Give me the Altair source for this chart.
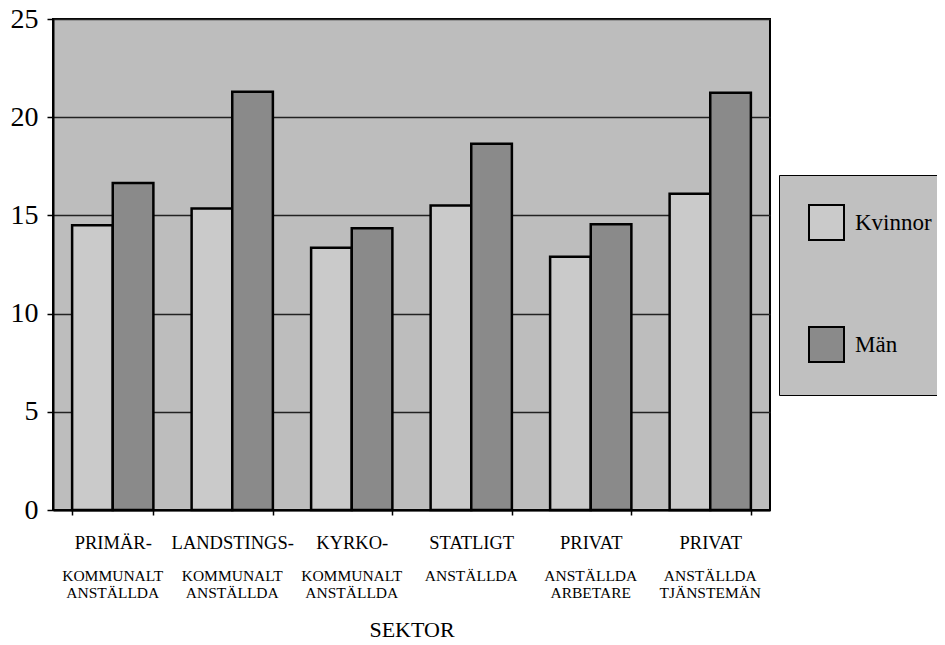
import altair as alt
import pandas as pd

# Data
sektor = [
    "PRIMÄR-|KOMMUNALT|ANSTÄLLDA",
    "LANDSTINGS-|KOMMUNALT|ANSTÄLLDA",
    "KYRKO-|KOMMUNALT|ANSTÄLLDA",
    "STATLIGT|ANSTÄLLDA",
    "PRIVAT|ANSTÄLLDA|ARBETARE",
    "PRIVAT|ANSTÄLLDA|TJÄNSTEMÄN",
]
kon = ["Kvinnor", "Män"]
kvinnor = [14.5, 15.35, 13.35, 15.5, 12.9, 16.1]
man = [16.65, 21.3, 14.35, 18.65, 14.55, 21.25]
y_ticks = [0, 5, 10, 15, 20, 25]

rows = []
for s, k, m in zip(sektor, kvinnor, man):
    rows.append({"sektor": s, "kon": kon[0], "varde": k})
    rows.append({"sektor": s, "kon": kon[1], "varde": m})
df = pd.DataFrame(rows)

FONT = "Liberation Serif"
BG = "#bdbdbd"
LIGHT = "#cacaca"
DARK = "#8a8a8a"

xscale = alt.Scale(domain=sektor, paddingInner=0.32, paddingOuter=0.16)

bars = alt.Chart(df).mark_bar(stroke="black", strokeWidth=2.5, opacity=1).encode(
    x=alt.X(
        "sektor:N",
        scale=xscale,
        sort=sektor,
        axis=alt.Axis(
            title=None,
            orient="bottom",
            labelExpr="isString(datum.value) ? split(datum.value, '|')[0] : ''",
            labelAngle=0,
            labelFont=FONT,
            labelFontSize=18.5,
            labelColor="black",
            labelPadding=18,
            tickBand="extent",
            tickSize=5,
            tickColor="black",
            tickWidth=1.5,
            domainColor="black",
            domainWidth=2,
            grid=False,
        ),
    ),
    xOffset=alt.XOffset("kon:N", scale=alt.Scale(domain=kon, paddingInner=0, paddingOuter=0)),
    y=alt.Y(
        "varde:Q",
        scale=alt.Scale(domain=[0, 25], nice=False),
        axis=alt.Axis(
            title=None,
            values=y_ticks,
            labelFont=FONT,
            labelFontSize=28,
            labelColor="black",
            labelPadding=9,
            tickSize=6,
            tickColor="black",
            tickWidth=1.5,
            domainColor="black",
            domainWidth=2,
            grid=True,
            gridColor="#222222",
            gridWidth=1.5,
        ),
    ),
    color=alt.Color(
        "kon:N",
        scale=alt.Scale(domain=kon, range=[LIGHT, DARK]),
        legend=alt.Legend(
            title=None,
            orient="none",
            legendX=726,
            legendY=156,
            direction="vertical",
            fillColor="#c0c0c0",
            strokeColor="black",
            padding=29,
            symbolType="square",
            symbolSize=1225,
            symbolStrokeColor="black",
            symbolStrokeWidth=2,
            symbolOpacity=1,
            labelFont=FONT,
            labelFontSize=23,
            labelColor="black",
            labelOffset=10,
            rowPadding=79,
        ),
    ),
)

labels2 = alt.Chart(df).mark_point(opacity=0).encode(
    x=alt.X(
        "sektor:N",
        scale=xscale,
        sort=sektor,
        axis=alt.Axis(
            orient="bottom",
            title="SEKTOR",
            titleFont=FONT,
            titleFontSize=22,
            titleFontWeight="normal",
            titleColor="black",
            titlePadding=19,
            labelExpr="isString(datum.value) ? slice(split(datum.value, '|'), 1) : ''",
            labelAngle=0,
            labelFont=FONT,
            labelFontSize=15.5,
            labelLineHeight=17,
            labelColor="black",
            labelPadding=58,
            ticks=False,
            tickSize=0,
            domain=False,
            grid=False,
        ),
    ),
)

chart = (
    alt.layer(bars, labels2)
    .resolve_axis(x="independent")
    .properties(
        width=717,
        height=491,
        padding={"left": 45, "top": 11, "right": 167, "bottom": 135},
        autosize=alt.AutoSizeParams(type="none"),
        background="white",
    )
    .configure_view(fill=BG, stroke="black", strokeWidth=2)
)

chart.save("out.html", embed_options={"renderer": "svg", "actions": False})
